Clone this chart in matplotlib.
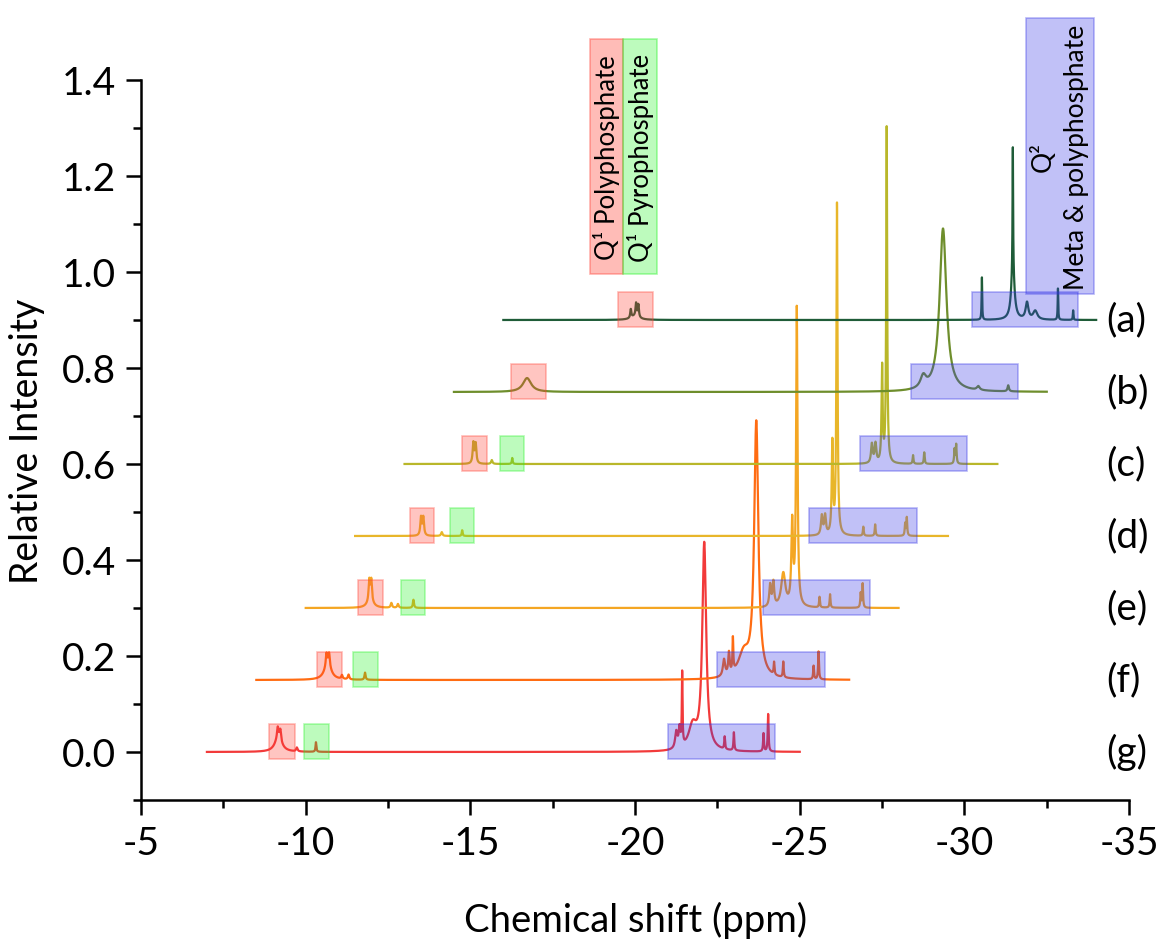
import numpy as np
import matplotlib
matplotlib.use("Agg")
import matplotlib.pyplot as plt
from matplotlib.patches import Rectangle
from matplotlib.ticker import MultipleLocator

plt.rcParams['font.family'] = ['Lato', 'DejaVu Sans']

# ---------------- data ----------------
labels = ['(g)', '(f)', '(e)', '(d)', '(c)', '(b)', '(a)']
offsets = [0.0, 0.15, 0.30, 0.45, 0.60, 0.75, 0.90]
x_start = [-7.0, -8.5, -10.0, -11.5, -13.0, -14.5, -16.0]
x_end = [-25.0, -26.5, -28.0, -29.5, -31.0, -32.5, -34.0]
colors = ['#f23a3a', '#ff6c12', '#f4a623', '#e8b62a', '#b9b72a', '#6e8e2c', '#1f5c38']

# peak lists: (position ppm, height, FWHM ppm)
peaks_g = [(-9.17, 0.030, 0.25), (-9.15, 0.022, 0.05), (-9.23, 0.022, 0.05), (-9.73, 0.008, 0.05),
           (-10.31, 0.02, 0.03),
           (-21.25, 0.035, 0.08), (-21.35, 0.04, 0.06), (-21.43, 0.15, 0.025), (-21.75, 0.05, 0.3),
           (-22.1, 0.43, 0.14),
           (-22.72, 0.026, 0.03), (-23.0, 0.038, 0.03), (-23.9, 0.038, 0.03), (-24.04, 0.078, 0.03)]
peaks_f = [(-10.67, 0.032, 0.25), (-10.63, 0.026, 0.05), (-10.71, 0.026, 0.05), (-11.1, 0.008, 0.05),
           (-11.3, 0.01, 0.05), (-11.8, 0.015, 0.04),
           (-22.7, 0.035, 0.08), (-22.85, 0.045, 0.05), (-22.97, 0.07, 0.03), (-23.3, 0.05, 0.4),
           (-23.68, 0.53, 0.15),
           (-24.22, 0.026, 0.03), (-24.5, 0.033, 0.03), (-25.42, 0.028, 0.03), (-25.57, 0.058, 0.03)]
peaks_e = [(-11.93, 0.045, 0.05), (-11.99, 0.045, 0.05), (-11.96, 0.012, 0.25), (-12.6, 0.01, 0.05),
           (-12.8, 0.008, 0.05), (-13.27, 0.017, 0.04),
           (-24.1, 0.045, 0.06), (-24.2, 0.05, 0.06), (-24.5, 0.07, 0.15), (-24.77, 0.17, 0.06),
           (-24.91, 0.62, 0.05),
           (-25.6, 0.022, 0.03), (-25.92, 0.028, 0.03), (-26.85, 0.03, 0.03), (-26.91, 0.05, 0.03)]
peaks_d = [(-13.5, 0.038, 0.05), (-13.57, 0.038, 0.05), (-14.13, 0.008, 0.05), (-14.75, 0.012, 0.03),
           (-25.67, 0.04, 0.06), (-25.77, 0.04, 0.06), (-25.99, 0.19, 0.045), (-26.13, 0.69, 0.04),
           (-26.93, 0.019, 0.03), (-27.29, 0.024, 0.03), (-28.2, 0.025, 0.03), (-28.25, 0.038, 0.03)]
peaks_c = [(-15.09, 0.043, 0.05), (-15.16, 0.041, 0.05), (-15.65, 0.008, 0.05), (-16.27, 0.0125, 0.03),
           (-27.19, 0.04, 0.06), (-27.3, 0.04, 0.06), (-27.5, 0.2, 0.04), (-27.64, 0.70, 0.035),
           (-28.44, 0.018, 0.03), (-28.78, 0.024, 0.03), (-29.7, 0.03, 0.03), (-29.75, 0.04, 0.03)]
peaks_b = [(-16.72, 0.029, 0.3),
           (-28.75, 0.025, 0.2), (-29.35, 0.34, 0.25),
           (-30.42, 0.008, 0.1), (-31.33, 0.0125, 0.05)]
peaks_a = [(-19.87, 0.018, 0.04), (-20.03, 0.027, 0.04), (-20.1, 0.026, 0.04), (-20.0, 0.008, 0.3),
           (-30.53, 0.09, 0.02), (-31.47, 0.26, 0.02), (-31.47, 0.1, 0.12), (-31.9, 0.035, 0.1),
           (-32.15, 0.018, 0.15), (-32.84, 0.066, 0.02), (-33.3, 0.02, 0.02)]
peak_lists = [peaks_g, peaks_f, peaks_e, peaks_d, peaks_c, peaks_b, peaks_a]

# highlight boxes (x from, x to) in ppm
pink_boxes = [(-8.9, -9.68), (-10.33, -11.09), (-11.59, -12.34), (-13.17, -13.9),
              (-14.75, -15.51), (-16.23, -17.3), (-19.49, -20.55)]
green_boxes = [(-9.95, -10.71), (-11.44, -12.2), (-12.89, -13.62), (-14.38, -15.11),
               (-15.9, -16.63), None, None]
blue_boxes = [(-21.0, -24.25), (-22.49, -25.77), (-23.89, -27.14), (-25.29, -28.57),
              (-26.83, -30.08), (-28.38, -31.63), (-30.24, -33.45)]
box_low, box_high = -0.015, 0.058

PINK = (1.0, 0.25, 0.2)
GREEN = (0.15, 0.95, 0.15)
BLUE = (0.2, 0.2, 0.9)

# ---------------- figure ----------------
fig = plt.figure(figsize=(11.59, 9.45), dpi=100)
ax = fig.add_axes([0.1217, 0.1524, 0.8525, 0.7619])

for i in range(len(labels)):
    x = np.linspace(x_start[i], x_end[i], 6000)
    y = np.zeros_like(x)
    for (p, h, w) in peak_lists[i]:
        y += h / (1.0 + ((x - p) / (w / 2.0)) ** 2)
    ax.plot(x, y + offsets[i], color=colors[i], lw=1.6, zorder=2)

    def add_box(bx, col, alpha):
        ax.add_patch(Rectangle((bx[0], offsets[i] + box_low), bx[1] - bx[0], box_high - box_low,
                               facecolor=col + (alpha,), edgecolor=col + (0.35,), lw=1.2, zorder=3))
    add_box(pink_boxes[i], PINK, 0.3)
    if green_boxes[i] is not None:
        add_box(green_boxes[i], GREEN, 0.3)
    add_box(blue_boxes[i], BLUE, 0.3)

    ax.text(-34.3, offsets[i] + 0.002, labels[i], fontsize=28, ha='left', va='center',
            clip_on=False)

# legend-like label boxes at top
ax.add_patch(Rectangle((-18.63, 0.996), -1.01, 0.489, facecolor=PINK + (0.35,),
                       edgecolor=PINK + (0.4,), lw=1.2, clip_on=False, zorder=3))
ax.add_patch(Rectangle((-19.64, 0.996), -1.03, 0.489, facecolor=GREEN + (0.3,),
                       edgecolor=GREEN + (0.4,), lw=1.2, clip_on=False, zorder=3))
ax.add_patch(Rectangle((-31.87, 0.954), -2.07, 0.575, facecolor=BLUE + (0.3,),
                       edgecolor=BLUE + (0.35,), lw=1.2, clip_on=False, zorder=3))
ax.text(-19.13, 1.24, 'Q¹ Polyphosphate', rotation=90, fontsize=18.5, ha='center', va='center',
        clip_on=False, zorder=4)
ax.text(-20.16, 1.24, 'Q¹ Pyrophosphate', rotation=90, fontsize=18.5, ha='center', va='center',
        clip_on=False, zorder=4)
ax.text(-32.88, 1.241, 'Q²\nMeta & polyphosphate', rotation=90, fontsize=19, ha='center',
        va='center', multialignment='center', linespacing=1.45, clip_on=False, zorder=4)

# axes styling
ax.set_xlim(-5, -35)
ax.set_ylim(-0.1, 1.4)
ax.xaxis.set_minor_locator(MultipleLocator(2.5))
ax.yaxis.set_minor_locator(MultipleLocator(0.1))
ax.set_xticks(np.arange(-5, -36, -5))
ax.set_xticklabels([str(v) for v in range(-5, -36, -5)])
ax.set_yticks(np.arange(0, 1.41, 0.2))
ax.set_yticklabels(['%.1f' % v for v in np.arange(0, 1.41, 0.2)])
for s in ['top', 'right']:
    ax.spines[s].set_visible(False)
for s in ['left', 'bottom']:
    ax.spines[s].set_linewidth(1.8)
ax.tick_params(which='major', direction='out', length=11, width=1.8, labelsize=28, pad=7)
ax.tick_params(which='minor', direction='out', length=6, width=1.8)
ax.set_xlabel('Chemical shift (ppm)', fontsize=27.5, labelpad=29)
ax.set_ylabel('Relative Intensity', fontsize=27, labelpad=12)

fig.savefig('out.png', dpi=100)
